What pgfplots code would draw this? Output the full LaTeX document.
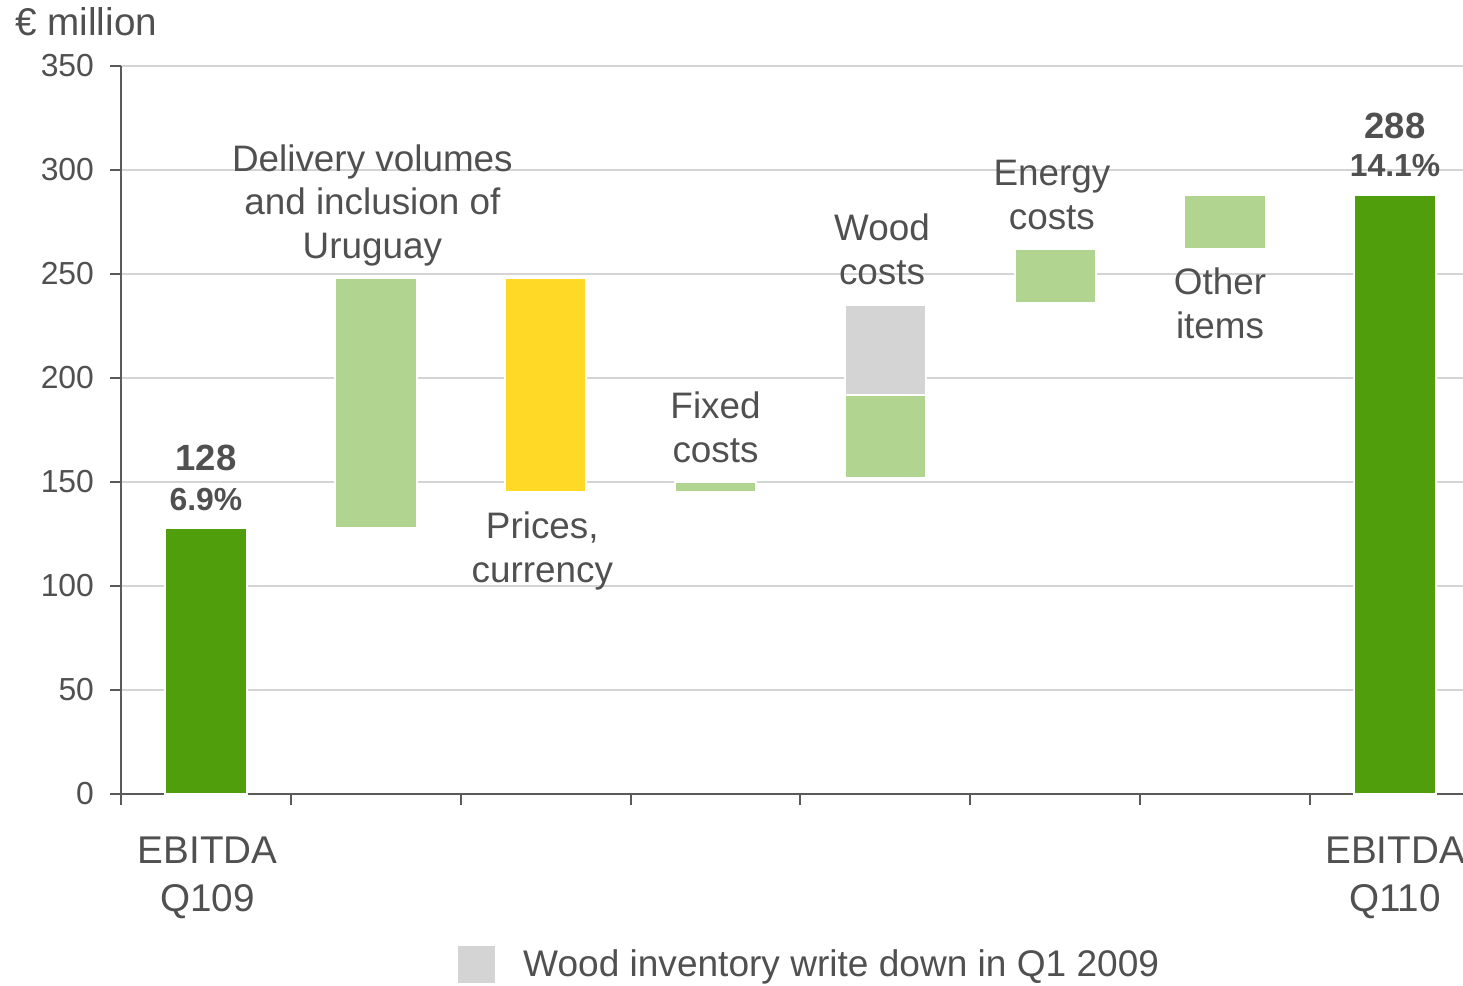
\documentclass[border=0pt]{standalone}
\usepackage{fontspec}
\setmainfont{Liberation Sans}
\usepackage{pgfplots}
\pgfplotsset{compat=1.18}
\definecolor{dkgreen}{RGB}{80,158,11}
\definecolor{ltgreen}{RGB}{178,212,145}
\definecolor{yel}{RGB}{255,217,38}
\definecolor{grybar}{RGB}{212,212,212}
\definecolor{textc}{RGB}{80,80,80}
\definecolor{axisc}{RGB}{90,90,90}
\definecolor{gridc}{RGB}{212,212,212}
\newcommand\lblfont{\fontsize{18.5}{22}\selectfont}
\newcommand\ebfont{\fontsize{19.4}{24}\selectfont}
\newcommand\bnfont{\bfseries\fontsize{18.3}{21}\selectfont}
\newcommand\bpfont{\bfseries\fontsize{16}{19}\selectfont}
\newcommand\tkfont{\fontsize{16}{19}\selectfont}
\newcommand\lgfont{\fontsize{18.6}{22}\selectfont}
\tikzset{lbl/.style={text=textc, align=center, font=\lblfont}}
\begin{document}
\begin{tikzpicture}
\begin{axis}[
  at={(0,0)}, anchor=south west,
  scale only axis, width=671bp, height=364bp,
  xmin=-0.5, xmax=7.4, ymin=0, ymax=350,
  axis lines*=left,
  axis line style={axisc, line width=1bp},
  ybar stacked, bar width=0.48,
  xtick={-0.5,0.5,...,6.5}, xticklabels={},
  ytick={0,50,...,350},
  ymajorgrids, grid style={gridc, line width=0.8bp},
  tick align=outside, major tick length=5.5bp,
  tick style={axisc, line width=1bp},
  /pgf/number format/assume math mode=true,
  yticklabel style={font=\tkfont, text=textc, xshift=-4.5bp},
  clip=false,
  legend style={at={(axis description cs:0.251,-0.234)}, anchor=west, draw=none, fill=none,
    font=\lgfont, text=textc, inner sep=0pt, nodes={inner sep=0pt}},
  legend image code/.code={\path (0bp,0bp) -- (31.5bp,0bp);\fill[grybar] (0bp,-8.75bp) rectangle (17.5bp,8.75bp);},
]
\addplot[draw=none, fill=none, forget plot] coordinates {(0,0) (1,128) (2,145) (3,145) (4,152) (5,236) (6,262) (7,0)};
\addplot[fill=dkgreen, draw=white, line width=1bp, forget plot] coordinates {(0,128) (1,0) (2,0) (3,0) (4,0) (5,0) (6,0) (7,288)};
\addplot[fill=ltgreen, draw=white, line width=1bp, forget plot] coordinates {(0,0) (1,120) (2,0) (3,5) (4,40) (5,26) (6,26) (7,0)};
\addplot[fill=yel, draw=white, line width=1bp, forget plot] coordinates {(0,0) (1,0) (2,103) (3,0) (4,0) (5,0) (6,0) (7,0)};
\addplot[fill=grybar, draw=white, line width=1bp] coordinates {(0,0) (1,0) (2,0) (3,0) (4,43) (5,0) (6,0) (7,0)};
\addlegendentry{Wood inventory write down in Q1 2009}
\node[lbl] at (axis cs:0.98,283) {Delivery volumes\\and inclusion of\\Uruguay};
\node[lbl] at (axis cs:1.98,116.8) {Prices,\\currency};
\node[lbl] at (axis cs:3.0,176.4) {Fixed\\costs};
\node[lbl] at (axis cs:3.98,261.8) {Wood\\costs};
\node[lbl] at (axis cs:4.98,288) {Energy\\costs};
\node[lbl] at (axis cs:5.97,236) {Other\\items};
\node[lbl, font=\ebfont] at (axis cs:0.01,-40.2) {EBITDA\\Q109};
\node[lbl, font=\ebfont] at (axis cs:7.0,-40.2) {EBITDA\\Q110};
\node[lbl, font=\bnfont] at (axis cs:0,161.5) {128};
\node[lbl, font=\bpfont] at (axis cs:0,141.8) {6.9\%};
\node[lbl, font=\bnfont] at (axis cs:7,321) {288};
\node[lbl, font=\bpfont] at (axis cs:7,302) {14.1\%};
\end{axis}
\node[anchor=west, inner sep=0pt, text=textc, font=\ebfont] at (-53bp,386bp) {€ million};
\pgfresetboundingbox
\path[use as bounding box] (-60.5bp,-96bp) rectangle (671bp,397bp);
\end{tikzpicture}
\end{document}
